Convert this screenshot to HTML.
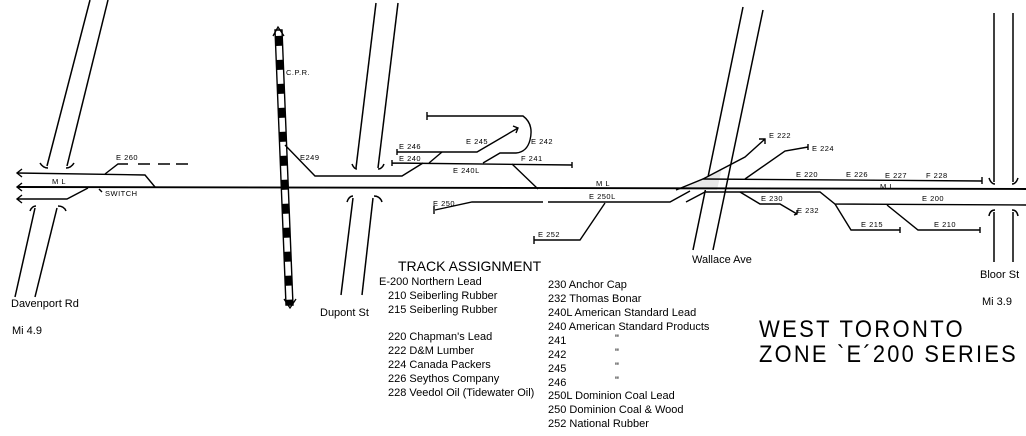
<!DOCTYPE html>
<html><head><meta charset="utf-8"><style>
html,body{margin:0;padding:0;background:#fff;}
svg{display:block;}
.s{font-family:"Liberation Sans",sans-serif;fill:#000;}
</style></head><body>
<svg width="1026" height="436" viewBox="0 0 1026 436" xmlns="http://www.w3.org/2000/svg">
<defs>
<pattern id="cpr" patternUnits="userSpaceOnUse" width="10" height="24" patternTransform="rotate(-2.5)">
<rect width="10" height="10" fill="#000"/><rect y="10" width="10" height="14" fill="#fff"/>
</pattern>
</defs>
<g stroke="#000" stroke-width="1.5" fill="none">
<!-- Davenport Rd -->
<line x1="90" y1="0" x2="47" y2="166"/><line x1="108" y1="0" x2="67" y2="166"/>
<path d="M40 163 Q43 168 48 168 M74 163 Q71 168 66 168"/>
<line x1="35" y1="208" x2="15" y2="297"/><line x1="57" y1="208" x2="35" y2="297"/>
<path d="M30 211 Q32 206 36 206 M66 211 Q64 206 58 206"/>
<!-- Dupont -->
<line x1="376" y1="3" x2="356" y2="168"/><line x1="398" y1="3" x2="378" y2="168"/>
<path d="M352 164 Q354 169 357 169 M384 164 Q382 169 378 169"/>
<line x1="353" y1="198" x2="341" y2="295"/><line x1="373" y1="198" x2="362" y2="295"/>
<path d="M347 202 Q349 196 353 196 M382 202 Q380 196 374 196"/>
<!-- Wallace -->
<line x1="743" y1="7" x2="693" y2="250"/><line x1="763" y1="10" x2="713" y2="250"/>
<!-- Bloor -->
<line x1="994" y1="13" x2="994" y2="182"/><line x1="1013" y1="13" x2="1013" y2="182"/>
<line x1="994" y1="212" x2="994" y2="262"/><line x1="1013" y1="212" x2="1013" y2="262"/>
<path d="M989 178 Q991 184 995 184 M1018 178 Q1016 184 1012 184 M989 216 Q990 210 995 210 M1018 216 Q1017 210 1012 210"/>
</g>
<!-- CPR -->
<polygon points="275,30 282,30 293,305 286,305" fill="url(#cpr)" stroke="#000" stroke-width="1.4"/>
<path d="M273 36 L278 27 L284 36 M284 299 L290 308 L296 299" stroke="#000" stroke-width="1.3" fill="none"/>
<polygon points="678,190 703,179 722,168 717,190" fill="#e8e8e8"/>
<g stroke="#000" stroke-width="1.4" fill="none">
<path d="M17 173 L145 175 L155 187 M17 199 L67 199 L88 188"/>
<path d="M17 187 L1026 189" stroke-width="1.9"/>
<path d="M22 169 L17 173 L22 177 M22 183 L17 187 L22 191 M22 195 L17 199 L22 203"/>
<path d="M105 174 L118 164 L128 164" /><path d="M138 164 L150 164 M158 164 L170 164 M176 164 L188 164"/>
<path d="M99 189 L102 192"/>
<path d="M285 145 L315 176 L402 176 L423 163"/>
<path d="M392 163 L572 165 M392 160 V166 M572 162 V168"/>
<path d="M397 152 L477 152 L518 128 M397 149 V155 M513 126 L518 128 L516 133"/>
<path d="M429 163 L442 152"/>
<path d="M427 116 L523 116 Q534 124 530 140 Q527 152 516 153 L500 153 L483 163 M427 112 V120"/>
<path d="M512 164 L538 189"/>
<path d="M435 210 L472 202 L543 202 M548 202 L670 202 L690 191 M434 206 V214"/>
<path d="M605 203 L580 240 L534 240 M534 236 V244"/>
<path d="M676 190 L703 179 L982 181 M982 177 V184"/>
<path d="M703 179 L745 157 L765 139 M759 139 L765 139 L765 144"/>
<path d="M745 179 L785 151 L808 147 M808 144 V150"/>
<path d="M686 202 L705 192 L820 192 L835 204 L1026 205"/>
<path d="M740 192 L760 204 L780 204 L797 214 M794 215 L797 214 L797 210"/>
<path d="M835 204 L851 230 L900 230 M900 227 V233"/>
<path d="M887 205 L918 230 L980 230 M980 227 V233"/>
</g>
<g class="s" font-size="7.5" letter-spacing="0.5">
<text x="116" y="160">E 260</text>
<text x="52" y="184">M  L</text>
<text x="105" y="196">SWITCH</text>
<text x="286" y="75">C.P.R.</text>
<text x="300" y="160">E249</text>
<text x="399" y="149">E 246</text>
<text x="399" y="161">E 240</text>
<text x="466" y="144">E 245</text>
<text x="531" y="144">E 242</text>
<text x="521" y="161">F 241</text>
<text x="453" y="173">E 240L</text>
<text x="433" y="206">E  250</text>
<text x="589" y="199">E 250L</text>
<text x="596" y="186">M  L</text>
<text x="538" y="237">E 252</text>
<text x="769" y="138">E 222</text>
<text x="812" y="151">E 224</text>
<text x="796" y="177">E 220</text>
<text x="846" y="177">E 226</text>
<text x="885" y="178">E 227</text>
<text x="926" y="178">F 228</text>
<text x="880" y="189">M L</text>
<text x="761" y="201">E 230</text>
<text x="797" y="213">E 232</text>
<text x="922" y="201">E 200</text>
<text x="861" y="227">E 215</text>
<text x="934" y="227">E 210</text>
</g>
<g class="s" font-size="11">
<text x="11" y="307">Davenport Rd</text>
<text x="12" y="334">Mi 4.9</text>
<text x="320" y="316">Dupont St</text>
<text x="692" y="263">Wallace Ave</text>
<text x="980" y="278">Bloor St</text>
<text x="982" y="305">Mi 3.9</text>
</g>
<text class="s" x="398" y="271" font-size="14">TRACK ASSIGNMENT</text>
<g class="s" font-size="11" xml:space="preserve">
<text x="379" y="285">E-200  Northern Lead</text>
<text x="388" y="299">210  Seiberling Rubber</text>
<text x="388" y="313">215  Seiberling Rubber</text>
<text x="388" y="340">220  Chapman's Lead</text>
<text x="388" y="354">222  D&amp;M Lumber</text>
<text x="388" y="368">224  Canada Packers</text>
<text x="388" y="382">226  Seythos Company</text>
<text x="388" y="396">228  Veedol Oil (Tidewater Oil)</text>
<text x="548" y="288">230  Anchor Cap</text>
<text x="548" y="302">232  Thomas Bonar</text>
<text x="548" y="316">240L American Standard Lead</text>
<text x="548" y="330">240  American Standard Products</text>
<text x="548" y="344">241</text><text x="615" y="342">"</text>
<text x="548" y="358">242</text><text x="615" y="356">"</text>
<text x="548" y="372">245</text><text x="615" y="370">"</text>
<text x="548" y="386">246</text><text x="615" y="384">"</text>
<text x="548" y="399">250L Dominion Coal Lead</text>
<text x="548" y="413">250  Dominion Coal &amp; Wood</text>
<text x="548" y="427">252 National Rubber</text>
</g>
<g class="s" font-size="24" letter-spacing="2.5">
<text x="759" y="337" textLength="206" lengthAdjust="spacingAndGlyphs">WEST TORONTO</text>
<text x="759" y="362" textLength="259" lengthAdjust="spacingAndGlyphs">ZONE `E´200 SERIES</text>
</g>
</svg>
</body></html>
